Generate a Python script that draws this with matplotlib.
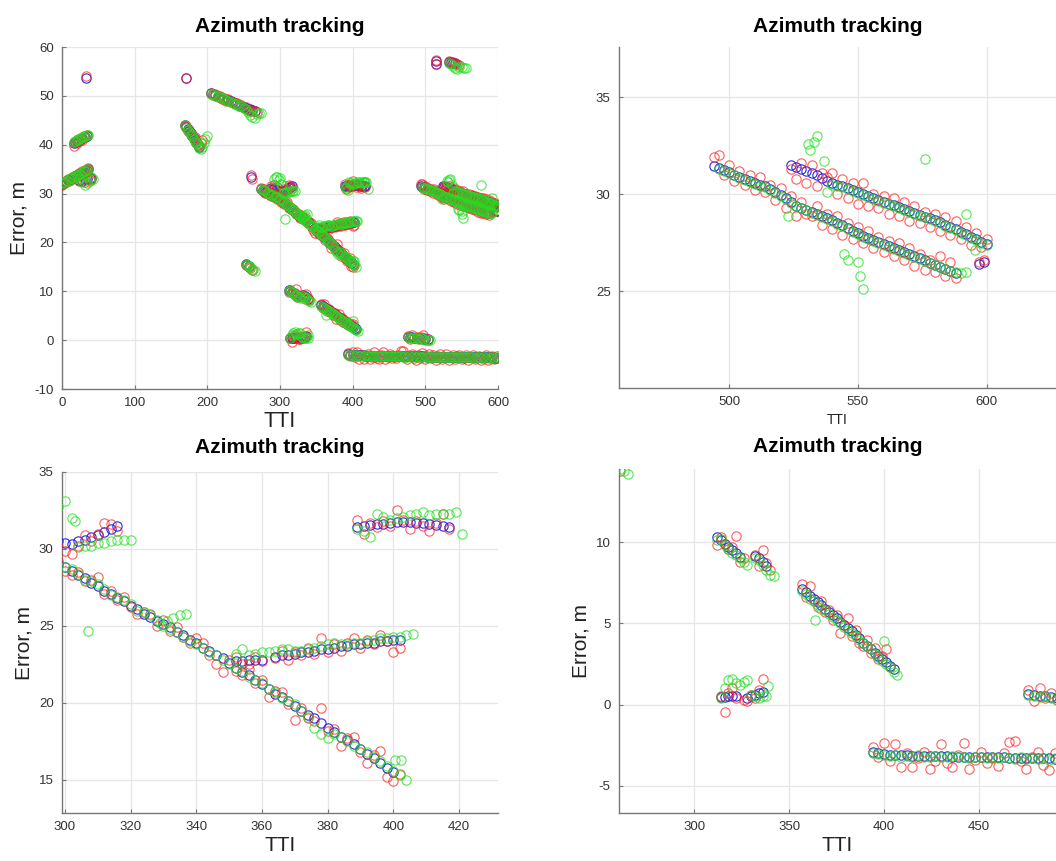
import numpy as np
import matplotlib
matplotlib.use('Agg')
import matplotlib.pyplot as plt

plt.rcParams['font.family'] = ['Liberation Sans', 'DejaVu Sans']
plt.rcParams['axes.unicode_minus'] = False

nan = float('nan')

# ---------------- data (TTI, error in m) : blue / red / green series per track ----------------
t1_x = [0, 2, 4, 6, 8, 10, 12, 14, 16, 18, 20, 22, 24, 26, 28, 30, 32, 34, 36]
t1_blue = [32.0, 32.2, 32.3, 32.5, 32.7, 32.8, 33.0, 33.2, 33.3, 33.5, 33.7, 33.8, 34.0, 34.2, 34.3, 34.5, 34.7, 34.8, 35.0]
t1_red = [31.8, 32.1, 32.4, 32.3, 32.9, 32.6, 33.2, 33.0, 33.5, 33.3, 33.9, 33.6, 34.2, 34.0, 34.6, 34.3, 34.9, 34.6, 35.2]
t1_green = [32.1, 32.3, 32.2, 32.6, 32.6, 32.9, 33.1, 33.3, 33.2, 33.6, 33.6, 33.9, 34.1, 34.1, 34.4, 34.6, 34.6, 35.0, 34.9]

t1b_x = [24, 28, 31, 34, 38, 40, 42]
t1b_blue = [32.7, 32.6, 32.9, 33.0, 33.1, 33.2, nan]
t1b_red = [32.5, 33.0, 32.4, 33.3, 32.8, 33.0, nan]
t1b_green = [32.9, 32.4, 31.7, 32.2, 32.6, 33.4, 33.0]

t2_x = [16, 18, 20, 22, 24, 26, 28, 30, 32, 34, 36]
t2_blue = [40.4, 40.5, 40.7, 40.8, 41.0, 41.1, 41.3, 41.5, 41.6, 41.8, nan]
t2_red = [39.8, 40.6, 40.4, 41.1, 40.8, 41.3, 41.0, 41.7, 41.5, 41.9, nan]
t2_green = [40.6, 40.7, 40.9, 41.0, 41.2, 41.3, 41.5, 41.6, 41.8, 41.9, 42.0]

iso_x = [33, 171, 260, 261, 515, 515, 597, 599]
iso_blue = [53.6, 53.6, 33.3, nan, 57.2, 56.6, 26.4, 26.5]
iso_red = [54.0, 53.6, 33.7, 32.9, 57.3, 56.6, 26.5, 26.6]
iso_green = [nan, nan, nan, nan, nan, nan, nan, nan]

t5_x = [169, 171, 173, 175, 177, 179, 181, 183, 185, 187, 189, 191, 193, 195, 197, 199]
t5_blue = [44.1, 43.7, 43.2, 42.8, 42.3, 41.8, 41.4, 40.9, 40.5, 40.0, 39.6, nan, nan, nan, nan, nan]
t5_red = [43.9, 43.8, 42.9, 43.0, 42.0, 41.9, 41.1, 41.5, 40.3, 40.2, 39.8, 40.3, 41.0, nan, nan, nan]
t5_green = [44.0, 43.5, 43.1, 42.6, 42.2, 41.7, 41.2, 40.8, 40.3, 39.9, 39.4, 39.2, 39.6, 40.4, 41.2, 41.8]

t6_x = [205, 208, 211, 214, 217, 220, 223, 226, 229, 232, 235, 238, 241, 244, 247, 250, 253, 256, 259, 262, 265, 268, 271, 274]
t6_blue = [50.5, 50.3, 50.1, 50.0, 49.8, 49.6, 49.4, 49.2, 49.1, 48.9, 48.7, 48.5, 48.3, 48.2, 48.0, 47.8, 47.6, 47.4, 47.3, 47.1, 46.9, nan, nan, nan]
t6_red = [50.6, 50.1, 50.3, 49.8, 49.9, 49.4, 49.6, 49.0, 49.3, 48.7, 48.8, 48.3, 48.5, 47.9, 48.2, 47.6, 47.8, 47.2, 47.0, 46.8, 47.0, 46.7, nan, nan]
t6_green = [50.4, 50.3, 50.0, 49.9, 49.7, 49.5, 49.4, 49.1, 49.0, 48.8, 48.6, 48.4, 48.3, 48.0, 47.9, 47.6, 47.4, 46.6, 46.0, 45.6, 45.4, 46.2, 46.5, 46.4]

t8_x = [253, 255, 257, 259, 261, 263, 265]
t8_blue = [15.5, 15.3, 15.1, nan, nan, nan, nan]
t8_red = [15.4, 15.3, 15.0, 14.8, 14.4, nan, nan]
t8_green = [15.6, 15.4, 15.1, 14.9, 14.5, 14.35, 14.2]

t9_x = [288, 290, 292, 294, 296, 298, 300, 302, 304, 306, 308, 310, 312, 314, 316, 318, 320]
t9_blue = [31.2, 31.0, 30.9, 30.7, 30.6, 30.5, 30.4, 30.3, 30.5, 30.6, 30.8, 30.9, 31.1, 31.3, 31.5, nan, nan]
t9_red = [31.6, 31.2, 31.8, 31.0, 31.4, 30.2, 29.9, 29.7, 30.2, 30.9, 30.5, 31.0, 31.7, 31.6, 31.2, nan, nan]
t9_green = [nan, nan, 33.0, 33.4, 33.3, 32.7, 33.1, 32.0, 30.1, 30.2, 30.2, 30.4, 30.4, 30.5, 30.6, 30.6, 30.6]

t10_x = [274, 276, 278, 280, 282, 284, 286, 288, 290, 292, 294, 296, 298, 300,
         302, 304, 306, 308, 310, 312, 314, 316, 318, 320, 322, 324, 326, 328, 330,
         332, 334, 336, 338, 340, 342, 344, 346, 348, 350,
         352, 354, 356, 358, 360, 362, 364, 366, 368, 370, 372, 374, 376, 378, 380,
         382, 384, 386, 388, 390, 392, 394, 396, 398, 400, 402, 404]
t10_blue = [30.9, 30.8, 30.6, 30.4, 30.3, 30.1, 30.0, 29.8, 29.6, 29.5, 29.3, 29.1, 29.0, 28.8,
            28.6, 28.3, 28.1, 27.8, 27.6, 27.3, 27.1, 26.8, 26.6, 26.3, 26.1, 25.8, 25.6, 25.3, 25.1,
            24.9, 24.6, 24.4, 24.1, 23.9, 23.6, 23.4, 23.1, 22.9, 22.6,
            22.3, 22.0, 21.8, 21.5, 21.2, 20.9, 20.6, 20.4, 20.1, 19.8, 19.5, 19.2, 19.0, 18.7, 18.4,
            18.1, 17.8, 17.6, 17.3, 17.0, 16.7, 16.4, 16.1, 15.8, 15.5, nan, nan]
t10_red = [31.2, 30.6, 30.9, 30.2, 30.6, 29.9, 30.3, 29.6, 29.9, 29.3, 29.6, 28.9, 29.2, 28.6,
           28.3, 28.5, 27.9, 28.0, 28.2, 27.1, 27.3, 26.7, 26.9, 26.2, 25.8, 25.9, 25.8, 25.0, 25.4,
           24.7, 24.9, 24.3, 23.9, 24.2, 23.9, 23.1, 22.5, 22.0, 22.8,
           22.1, 21.8, 22.2, 21.3, 21.5, 20.4, 20.8, 20.7, 19.9, 18.9, 19.7, 19.0, 18.8, 19.7, 18.2,
           18.3, 17.2, 17.7, 17.8, 16.8, 16.1, 16.6, 16.9, 15.2, 14.9, 15.4, nan]
t10_green = [31.0, 30.8, 30.7, 30.5, 30.2, 30.2, 29.9, 29.8, 29.7, 29.4, 29.3, 29.2, 28.9, 28.8,
             28.7, 28.4, 28.0, 27.9, 27.7, 27.4, 27.0, 26.9, 26.7, 26.4, 26.0, 25.9, 25.7, 25.4, 25.0,
             24.8, 24.6, 24.3, 24.0, 23.8, 23.6, 23.3, 23.1, 22.8, 22.5,
             22.3, 22.1, 21.7, 21.5, 21.3, 20.9, 20.7, 20.3, 20.1, 19.9, 19.5, 19.1, 18.4, 18.0, 17.7,
             18.0, 17.8, 17.5, 17.2, 17.0, 16.8, 16.5, 16.2, 15.9, 15.6, 15.3, 15.0]

t11_x = [329, 331, 333, 335, 337]
t11_blue = [nan, nan, nan, nan, nan]
t11_red = [nan, nan, nan, nan, nan]
t11_green = [25.2, 25.3, 25.5, 25.7, 25.8]

t12_x = [352, 354, 356, 358, 360, 362, 364, 366, 368, 370, 372, 374, 376, 378,
         380, 382, 384, 386, 388, 390, 392, 394, 396, 398, 400, 402, 404, 406]
t12_blue = [22.7, 22.7, 22.8, 22.8, 22.8, nan, 23.0, 23.1, 23.1, 23.2, 23.3, 23.3, 23.4, 23.5,
            23.5, 23.6, 23.7, 23.7, 23.8, 23.8, 23.9, 23.9, 24.0, 24.0, 24.1, 24.1, nan, nan]
t12_red = [23.0, 22.5, 22.5, 23.0, 22.7, nan, 22.9, 23.4, 22.8, 23.3, 23.1, 23.6, 23.2, 24.2,
           23.3, 23.8, 23.4, 23.9, 24.2, 23.6, 24.1, 23.8, 24.4, 24.0, 23.3, 23.6, nan, nan]
t12_green = [23.2, 23.5, 23.1, 23.2, 23.3, 23.3, 23.4, 23.5, 23.5, 23.4, 23.4, 23.5, 23.6, 23.7,
             23.8, 23.9, 23.8, 23.8, 23.9, 23.9, 24.0, 24.1, 24.2, 24.2, 24.3, 24.3, 24.4, 24.45]

t13_x = [389, 391, 393, 395, 397, 399, 401, 403, 405, 407, 409, 411, 413, 415, 417, 419, 421]
t13_blue = [31.45, 31.5, 31.55, 31.6, 31.65, 31.7, 31.75, 31.75, 31.75, 31.7, 31.7, 31.6, 31.55, 31.5, 31.45, nan, nan]
t13_red = [31.9, 31.0, 31.7, 31.4, 31.8, 31.5, 32.5, 31.9, 31.3, 31.8, 31.5, 31.2, 31.7, 32.3, 31.3, nan, nan]
t13_green = [31.3, 31.2, 30.8, 32.3, 32.1, 31.9, 32.0, 32.1, 32.2, 32.3, 32.4, 32.2, 32.3, 32.3, 32.3, 32.4, 31.0]

t14a_x = [312, 314, 316, 318, 320, 322, 324, 326, 328]
t14a_blue = [10.3, 10.1, 9.9, 9.7, 9.5, 9.3, 9.1, nan, nan]
t14a_red = [9.85, 10.3, 9.9, 9.6, 9.7, 10.4, 8.8, 9.0, nan]
t14a_green = [10.1, 10.2, 9.8, 9.6, 9.3, 9.2, 9.0, 8.8, 8.6]

t14b_x = [332, 334, 336, 338, 340, 342]
t14b_blue = [9.15, 9.0, 8.8, 8.5, nan, nan]
t14b_red = [9.2, 8.5, 9.5, 8.7, 8.3, nan]
t14b_green = [9.0, 8.9, 8.6, 8.3, 8.0, 7.9]

t15_x = [314, 316, 318, 320, 322, 324, 326, 328, 330, 332, 334, 336, 338]
t15_blue = [0.45, 0.45, 0.5, 0.5, 0.55, nan, nan, 0.4, 0.5, 0.6, 0.7, 0.8, nan]
t15_red = [0.5, -0.45, 0.7, 1.0, 0.4, nan, 0.3, 0.2, 0.6, 0.4, 0.9, 1.6, nan]
t15_green = [0.4, 1.0, 1.5, 1.6, 1.3, 1.2, 1.4, 1.5, 0.6, 0.5, 0.4, 0.5, 0.5]

t16_x = [357, 359, 361, 363, 365, 367, 369, 371, 373, 375, 377, 379, 381,
         383, 385, 387, 389, 391, 393, 395, 397, 399, 401, 403, 405, 407]
t16_blue = [7.1, 6.9, 6.7, 6.5, 6.3, 6.1, 5.9, 5.7, 5.5, 5.3, 5.1, 4.9, 4.7,
            4.5, 4.3, 4.1, 3.8, 3.6, 3.4, 3.2, 3.0, 2.8, 2.6, 2.4, 2.2, nan]
t16_red = [7.4, 6.6, 7.3, 6.4, 6.0, 6.4, 5.7, 5.8, 5.2, 5.5, 4.4, 4.9, 5.3,
           4.2, 4.6, 3.8, 3.6, 4.0, 3.2, 3.5, 2.8, 3.0, 3.4, 2.3, nan, nan]
t16_green = [7.0, 6.8, 6.5, 6.4, 6.1, 5.9, 5.8, 5.6, 5.4, 5.2, 5.0, 4.8, 4.6,
             4.4, 4.2, 4.0, 3.8, 3.6, 3.4, 3.1, 2.9, 2.7, 2.5, 2.3, 2.0, 1.8]

t17_x = [394, 397, 400, 403, 406, 409, 412, 415, 418, 421,
         424, 427, 430, 433, 436, 439, 442, 445, 448, 451,
         454, 457, 460, 463, 466, 469, 472, 475, 478, 481,
         484, 487, 490, 493, 496, 499, 502, 505, 508, 511,
         514, 517, 520, 523, 526, 529, 532, 535, 538, 541,
         544, 547, 550, 553, 556, 559, 562, 565, 568, 571,
         574, 577, 580, 583, 586, 589, 592, 595, 598]
t17_blue = [-2.90, -2.98, -3.05, -3.08, -3.10, -3.12, -3.12, -3.14, -3.15, -3.16,
            -3.17, -3.18, -3.18, -3.19, -3.20, -3.20, -3.21, -3.22, -3.22, -3.23,
            -3.24, -3.24, -3.25, -3.25, -3.26, -3.27, -3.27, -3.28, -3.29, -3.30,
            -3.30, -3.31, -3.32, -3.33, -3.33, -3.34, -3.35, -3.36, -3.36, -3.37,
            -3.38, -3.38, -3.39, -3.40, -3.40, -3.41, -3.42, -3.42, -3.43, -3.44,
            -3.44, -3.45, -3.46, -3.46, -3.47, -3.48, -3.48, -3.49, -3.50, -3.50,
            -3.51, -3.52, -3.52, -3.53, -3.54, -3.54, -3.55, -3.56, -3.56]
t17_red = [-2.6, -3.2, -2.35, -3.5, -2.45, -3.85, -3.0, -3.85, -3.3, -2.9,
           -3.95, -3.5, -2.45, -3.6, -3.85, -3.1, -2.35, -3.95, -3.4, -2.9,
           -3.6, -3.3, -3.75, -3.0, -2.3, -2.25, -3.5, -3.95, -3.2, -2.9,
           -3.7, -4.05, -3.0, -3.6, -2.7, -3.9, -3.2, -2.8, -3.7, -3.1,
           -4.0, -3.3, -2.9, -3.8, -3.4, -2.9, -4.1, -3.5, -3.0, -3.9,
           -3.3, -2.95, -3.8, -3.6, -3.1, -4.0, -3.5, -3.0, -3.9, -3.4,
           -3.2, -4.0, -3.6, -3.1, -4.05, -3.7, -3.2, -3.9, -3.3]
t17_green = [-2.95, -3.05, -3.10, -3.15, -3.10, -3.20, -3.15, -3.20, -3.10, -3.20,
             -3.25, -3.15, -3.20, -3.25, -3.15, -3.25, -3.20, -3.30, -3.20, -3.25,
             -3.30, -3.20, -3.30, -3.25, -3.30, -3.35, -3.25, -3.35, -3.30, -3.35,
             -3.30, -3.40, -3.30, -3.40, -3.35, -3.30, -3.40, -3.35, -3.45, -3.35,
             -3.45, -3.40, -3.45, -3.50, -3.40, -3.50, -3.45, -3.50, -3.40, -3.50,
             -3.45, -3.55, -3.45, -3.50, -3.55, -3.45, -3.55, -3.50, -3.60, -3.50,
             -3.55, -3.60, -3.50, -3.60, -3.55, -3.60, -3.50, -3.60, -3.55]

t18_x = [476, 479, 482, 485, 488, 491, 494, 497, 500, 503, 506]
t18_blue = [0.65, 0.6, 0.55, 0.5, 0.45, 0.4, 0.35, 0.3, 0.25, 0.2, nan]
t18_red = [0.9, 0.2, 1.0, 0.4, 0.7, 0.3, 0.6, 1.1, 0.5, 0.1, nan]
t18_green = [0.6, 0.5, 0.45, 0.5, 0.4, 0.3, 0.35, 0.25, 0.1, 0.05, 0.0]

t19_x = [494, 496, 498, 500, 502, 504, 506, 508, 510, 512,
         514, 516, 518, 520, 522, 524, 526, 528, 530, 532,
         534, 536, 538, 540, 542, 544, 546, 548, 550, 552,
         554, 556, 558, 560, 562, 564, 566, 568, 570, 572,
         574, 576, 578, 580, 582, 584, 586, 588, 590, 592]
t19_blue = [31.45, 31.35, 31.25, 31.15, 31.0, 30.9, 30.8, 30.7, 30.6, 30.5,
            30.4, 30.25, 30.1, 29.95, 29.8, 29.6, 29.4, 29.3, 29.2, 29.1,
            29.0, 28.9, 28.75, 28.65, 28.5, 28.4, 28.25, 28.1, 28.0, 27.85,
            27.75, 27.65, 27.55, 27.45, 27.35, 27.2, 27.1, 27.0, 26.9, 26.8,
            26.7, 26.6, 26.45, 26.35, 26.25, 26.15, 26.05, 25.95, nan, nan]
t19_red = [31.9, 32.0, 31.0, 31.5, 30.7, 31.2, 30.5, 31.0, 30.2, 30.9,
           30.1, 30.5, 29.7, 30.3, 29.3, 29.9, 28.9, 29.6, 29.0, 28.9,
           29.4, 28.4, 29.0, 28.2, 28.9, 27.9, 28.5, 27.7, 28.3, 27.5,
           28.1, 27.2, 27.8, 27.0, 27.6, 26.8, 27.5, 26.6, 27.2, 26.3,
           26.9, 26.1, 26.6, 26.0, 26.8, 25.8, 26.5, 25.7, nan, nan]
t19_green = [nan, 31.3, 31.2, 31.1, 31.0, 30.85, 30.75, 30.65, 30.55, 30.45,
             30.35, 30.2, 30.05, 29.9, 29.75, 29.55, 29.4, 29.3, 29.2, 29.05,
             28.95, 28.85, 28.7, 28.6, 28.45, 28.35, 28.2, 28.05, 27.95, 27.8,
             27.7, 27.6, 27.5, 27.4, 27.3, 27.15, 27.05, 26.95, 26.85, 26.75,
             26.65, 26.55, 26.45, 26.35, 26.25, 26.15, 26.05, 26.0, 25.95, 26.0]

t20_x = [524, 526, 528, 530, 532, 534, 536, 538, 540, 542,
         544, 546, 548, 550, 552, 554, 556, 558, 560, 562,
         564, 566, 568, 570, 572, 574, 576, 578, 580, 582,
         584, 586, 588, 590, 592, 594, 596, 598, 600]
t20_blue = [31.5, 31.4, 31.3, 31.2, 31.1, 31.0, 30.85, 30.7, 30.6, 30.5,
            30.4, 30.3, 30.2, 30.1, 30.0, 29.9, 29.8, 29.7, 29.6, 29.5,
            29.45, 29.35, 29.25, 29.15, 29.05, 28.95, 28.85, 28.75, 28.65, 28.55,
            28.4, 28.3, 28.2, 28.05, 27.95, 27.8, 27.7, 27.55, 27.45]
t20_red = [31.3, 30.8, 31.6, 30.6, 31.5, 30.4, 31.1, 30.9, 31.1, 30.0,
           30.8, 29.8, 30.6, 29.5, 30.6, 29.4, 30.0, 29.3, 29.9, 29.0,
           29.8, 28.9, 29.6, 28.6, 29.4, 28.5, 29.1, 28.3, 29.0, 28.1,
           28.8, 27.9, 28.6, 27.7, 28.3, 27.4, 28.0, 27.3, 27.7]
t20_green = [nan, nan, nan, nan, nan, nan, nan, 30.1, 30.5, 30.45,
             30.35, 30.25, 30.15, 30.05, 29.95, 29.85, 29.75, 29.65, 29.55, 29.5,
             29.4, 29.3, 29.2, 29.1, 29.0, 28.9, 28.8, 28.7, 28.6, 28.5,
             28.35, 28.25, 28.15, 28.0, 27.9, 27.75, 27.65, 27.5, 27.4]

t22_x = [532, 535, 538, 541, 544, 547, 550, 553, 556]
t22_blue = [57.0, 56.9, 56.8, 56.7, nan, nan, nan, nan, nan]
t22_red = [57.1, 56.8, 57.0, 56.6, 56.5, 56.3, nan, nan, nan]
t22_green = [56.8, 56.5, 56.2, 55.8, 55.5, 55.9, 56.0, 55.8, 55.7]

green_out_x = [307, 303, 400.5, 402.5, 523, 530.5, 531.5, 533, 534, 537, 576,
               544.5, 546, 550, 551, 552, 592, 595.5, 363.7, 399.8, 339]
green_out_y = [24.7, 31.8, 16.3, 16.3, 28.9, 32.6, 32.3, 32.7, 33.0, 31.7, 31.8,
               26.9, 26.6, 26.5, 25.8, 25.1, 29.0, 27.1, 5.2, 3.9, 1.15]

tracks = [
    (t1_x, t1_blue, t1_red, t1_green), (t1b_x, t1b_blue, t1b_red, t1b_green),
    (t2_x, t2_blue, t2_red, t2_green), (iso_x, iso_blue, iso_red, iso_green),
    (t5_x, t5_blue, t5_red, t5_green), (t6_x, t6_blue, t6_red, t6_green),
    (t8_x, t8_blue, t8_red, t8_green), (t9_x, t9_blue, t9_red, t9_green),
    (t10_x, t10_blue, t10_red, t10_green), (t11_x, t11_blue, t11_red, t11_green),
    (t12_x, t12_blue, t12_red, t12_green), (t13_x, t13_blue, t13_red, t13_green),
    (t14a_x, t14a_blue, t14a_red, t14a_green), (t14b_x, t14b_blue, t14b_red, t14b_green),
    (t15_x, t15_blue, t15_red, t15_green), (t16_x, t16_blue, t16_red, t16_green),
    (t17_x, t17_blue, t17_red, t17_green), (t18_x, t18_blue, t18_red, t18_green),
    (t19_x, t19_blue, t19_red, t19_green), (t20_x, t20_blue, t20_red, t20_green),
    (t22_x, t22_blue, t22_red, t22_green),
]

X = np.concatenate([np.asarray(t[0], float) for t in tracks])
BLUE = np.concatenate([np.asarray(t[1], float) for t in tracks])
RED = np.concatenate([np.asarray(t[2], float) for t in tracks])
GREEN = np.concatenate([np.asarray(t[3], float) for t in tracks])
GX = np.concatenate([X, np.asarray(green_out_x, float)])
GY = np.concatenate([GREEN, np.asarray(green_out_y, float)])

W, H = 1056, 861
fig = plt.figure(figsize=(W / 100, H / 100), dpi=100)


def frac(left, top, right, bottom):
    return [left / W, 1 - bottom / H, (right - left) / W, (bottom - top) / H]


panels = [
    dict(pos=frac(62, 47, 498, 389), xlim=(0, 600), ylim=(-10, 60),
         xticks=np.arange(0, 601, 100), yticks=np.arange(-10, 61, 10),
         xlsize=15.5, ylabel=True, pad=11, xlpad=1),
    dict(pos=frac(619, 47, 1056, 388), xlim=(457.2, 627.0), ylim=(20.0, 37.6),
         xticks=[500, 550, 600], yticks=[25, 30, 35],
         xlsize=10, ylabel=False, pad=11, xlpad=3),
    dict(pos=frac(62, 472, 498, 813), xlim=(299.1, 431.9), ylim=(12.85, 35.0),
         xticks=np.arange(300, 421, 20), yticks=np.arange(15, 36, 5),
         xlsize=15, ylabel=True, pad=14, xlpad=2),
    dict(pos=frac(619, 469, 1056, 813), xlim=(260.4, 490.6), ylim=(-6.67, 14.5),
         xticks=np.arange(300, 451, 50), yticks=np.arange(-5, 11, 5),
         xlsize=15, ylabel=True, pad=12, xlpad=2),
]

ms, mew = 6.7, 0.8
for p in panels:
    ax = fig.add_axes(p['pos'])
    ax.plot(X, BLUE, 'o', mfc='none', mec='#2a2ae6', ms=ms, mew=mew, zorder=3)
    ax.plot(X, RED, 'o', mfc='none', mec='#ff1a1a', ms=ms, mew=mew, alpha=0.7, zorder=4)
    ax.plot(GX, GY, 'o', mfc='none', mec='#22e022', ms=ms, mew=mew, alpha=0.75, zorder=5)
    ax.set_xlim(*p['xlim'])
    ax.set_ylim(*p['ylim'])
    ax.set_xticks(p['xticks'])
    ax.set_yticks(p['yticks'])
    ax.grid(True, color='#e6e6e6', linewidth=0.9)
    ax.set_axisbelow(True)
    for s in ['top', 'right']:
        ax.spines[s].set_visible(False)
    for s in ['left', 'bottom']:
        ax.spines[s].set_color('#777777')
        ax.spines[s].set_linewidth(1.0)
    ax.tick_params(direction='in', length=3, width=0.8, color='#777777',
                   labelsize=9.5, labelcolor='#333333', pad=6)
    ax.set_title('Azimuth tracking', fontsize=15, fontweight='bold', pad=p['pad'])
    ax.set_xlabel('TTI', fontsize=p['xlsize'], color='#222222', labelpad=p['xlpad'])
    if p['ylabel']:
        ax.set_ylabel('Error, m', fontsize=15, color='#222222', labelpad=4)

fig.savefig('out.png', dpi=100)
